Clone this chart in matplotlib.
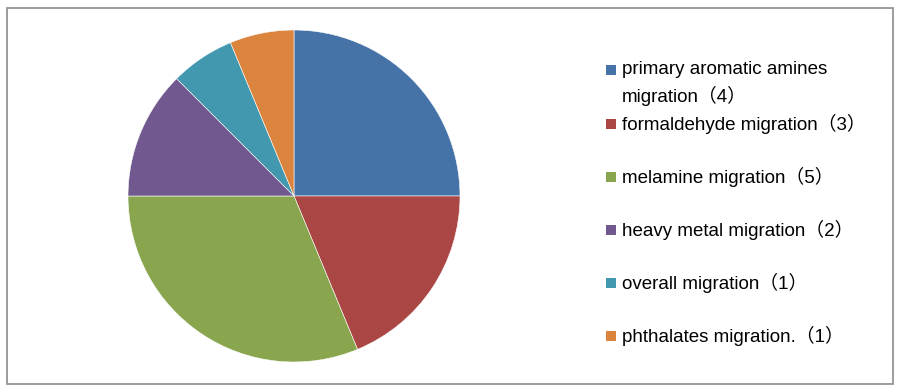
import matplotlib
matplotlib.use("Agg")
import matplotlib.pyplot as plt
from matplotlib.patches import Rectangle

labels = [
    "primary aromatic amines\nmigration（4）",
    "formaldehyde migration（3）",
    "melamine migration（5）",
    "heavy metal migration（2）",
    "overall migration（1）",
    "phthalates migration.（1）",
]
counts = [4, 3, 5, 2, 1, 1]
colors = ["#4572A7", "#AA4643", "#89A54E", "#71588F", "#4198AF", "#DB843D"]

W, H = 900, 392
fig = plt.figure(figsize=(W / 100, H / 100), dpi=100)
fig.patch.set_facecolor("white")

# outer frame
fig.patches.append(Rectangle((7 / W, 8 / H), 886 / W, 376 / H, transform=fig.transFigure,
                             fill=False, edgecolor="#8c8c8c", linewidth=1.2))

# pie: centre (294,196), radius 166 px
ax = fig.add_axes([128 / W, 30 / H, 332 / W, 332 / H])
ax.pie(counts, colors=colors, startangle=90, counterclock=False,
       wedgeprops=dict(edgecolor="white", linewidth=0.4))
ax.set_xlim(-1, 1)
ax.set_ylim(-1, 1)
ax.set_aspect("equal")
ax.axis("off")

# legend drawn by hand (uneven spacing in the original)
fam = ["Liberation Sans", "Noto Sans CJK SC"]
fs = 13.5
ys = [70, 124, 177, 230, 283, 336]
for lab, col, y in zip(labels, colors, ys):
    fig.patches.append(Rectangle((606 / W, 1 - (y + 5) / H), 10 / W, 10 / H,
                                 transform=fig.transFigure, facecolor=col,
                                 edgecolor="none"))
    first, *rest = lab.split("\n")
    fig.text(622 / W, 1 - y / H, first, family=fam, fontsize=fs, color="black",
             va="center", ha="left")
    for k, line in enumerate(rest, 1):
        fig.text(622 / W, 1 - (y + 26 * k) / H, line, family=fam, fontsize=fs,
                 color="black", va="center", ha="left")

fig.savefig("out.png", dpi=100, facecolor="white")
